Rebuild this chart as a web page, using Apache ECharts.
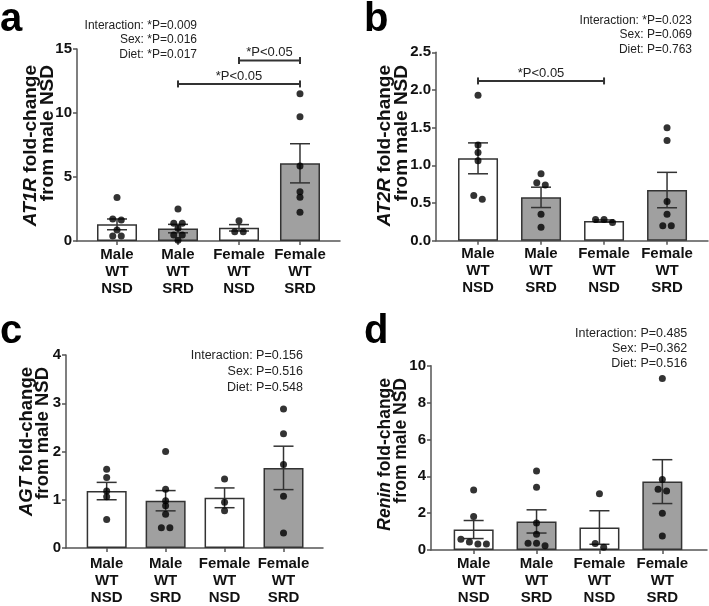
<!DOCTYPE html>
<html>
<head>
<meta charset="utf-8">
<script src="https://cdn.jsdelivr.net/npm/echarts@6/dist/echarts.min.js"></script>
<style>
html,body{margin:0;padding:0;background:#fff;}
#chart{width:709px;height:606px;}
</style>
</head>
<body>
<div id="chart"></div>
<script>
// ---------------- DATA ----------------
const categories = ['Male\nWT\nNSD', 'Male\nWT\nSRD', 'Female\nWT\nNSD', 'Female\nWT\nSRD'];

// Panel a: AT1R
const meansA = [1.30, 0.97, 1.03, 6.07];
const semA = [0.42, 0.33, 0.25, 1.53];
const dotsA = [
  [3.4, 1.72, 1.64, 0.86, 0.39, 0.39],
  [2.5, 1.38, 1.38, 0.99, 0.47, 0.47, 0.05],
  [1.59, 0.73, 0.73],
  [11.5, 9.7, 5.86, 3.85, 3.41, 2.24]
];
const bracketsA = [[2, 3, 14.1], [1, 3, 12.27]];
const bracketLabelsA = ['*P<0.05', '*P<0.05'];
const statsA = ['Interaction: *P=0.009', 'Sex: *P=0.016', 'Diet: *P=0.017'];
const yTicksA = [0, 5, 10, 15];

// Panel b: AT2R
const meansB = [1.093, 0.575, 0.26, 0.672];
const semB = [0.205, 0.135, 0.015, 0.235];
const dotsB = [
  [1.93, 1.27, 1.17, 1.06, 0.60, 0.55],
  [0.89, 0.77, 0.74, 0.35, 0.18],
  [0.28, 0.28, 0.24],
  [1.50, 1.33, 0.52, 0.35, 0.2, 0.2]
];
const bracketsB = [[0, 2, 2.12]];
const bracketLabelsB = ['*P<0.05'];
const statsB = ['Interaction: *P=0.023', 'Sex: P=0.069', 'Diet: P=0.763'];
const yTicksB = [0, 0.5, 1.0, 1.5, 2.0, 2.5];

// Panel c: AGT
const meansC = [1.18, 0.98, 1.04, 1.66];
const semC = [0.18, 0.21, 0.205, 0.45];
const dotsC = [
  [1.63, 1.46, 1.18, 1.06, 0.59],
  [2.0, 1.22, 0.98, 0.875, 0.70, 0.42, 0.42],
  [1.43, 0.95, 0.77],
  [2.88, 2.37, 1.73, 1.07, 0.31]
];
const bracketsC = [];
const bracketLabelsC = [];
const statsC = ['Interaction: P=0.156', 'Sex: P=0.516', 'Diet: P=0.548'];
const yTicksC = [0, 1, 2, 3, 4];

// Panel d: Renin
const meansD = [1.11, 1.55, 1.22, 3.71];
const semD = [0.49, 0.63, 0.91, 1.19];
const dotsD = [
  [3.26, 1.82, 0.58, 0.44, 0.32, 0.32],
  [4.29, 3.41, 1.46, 0.85, 0.37, 0.37, 0.23],
  [3.05, 0.35, 0.15],
  [9.31, 3.82, 3.29, 3.2, 2.0, 0.76]
];
const bracketsD = [];
const bracketLabelsD = [];
const statsD = ['Interaction: P=0.485', 'Sex: P=0.362', 'Diet: P=0.516'];
const yTicksD = [0, 2, 4, 6, 8, 10];

const genes = ['AT1R', 'AT2R', 'AGT', 'Renin'];
const panelLetters = ['a', 'b', 'c', 'd'];

// ---------------- LAYOUT / STYLE ----------------
const FONT = '"Liberation Sans", Arial, Helvetica, sans-serif';
const AXIS_COLOR = '#555';
const INK = '#333';
const GRAY_FILL = '#a0a0a0';
const fills = ['#ffffff', GRAY_FILL, '#ffffff', GRAY_FILL];

const panels = [
  {means: meansA, sem: semA, dots: dotsA, br: bracketsA, brL: bracketLabelsA, stats: statsA, ticks: yTicksA, dec: 0,
   grid: {left: 77, top: 49, width: 263, height: 192}, xmin: -0.656, xmax: 3.656,
   statsPos: [197, 40], statsFont: 12, statsLH: 14.6, lblMargin: 5,
   title: {x1: 31, x2: 48, top: 65, fs: 19}, letter: [0, 20]},
  {means: meansB, sem: semB, dots: dotsB, br: bracketsB, brL: bracketLabelsB, stats: statsB, ticks: yTicksB, dec: 1,
   grid: {left: 436, top: 52.3, width: 272, height: 188.4}, xmin: -0.667, xmax: 3.65,
   statsPos: [692, 35], statsFont: 12, statsLH: 14.3, lblMargin: 5,
   title: {x1: 385, x2: 402, top: 65, fs: 19}, letter: [364, 20]},
  {means: meansC, sem: semC, dots: dotsC, br: bracketsC, brL: bracketLabelsC, stats: statsC, ticks: yTicksC, dec: 0,
   grid: {left: 66, top: 355, width: 257, height: 195}, xmin: -0.69, xmax: 3.67,
   statsPos: [303, 371.5], statsFont: 12.5, statsLH: 15.8, lblMargin: 7,
   title: {x1: 26.5, x2: 43, top: 367, fs: 18.5}, letter: [0, 332]},
  {means: meansD, sem: semD, dots: dotsD, br: bracketsD, brL: bracketLabelsD, stats: statsD, ticks: yTicksD, dec: 0,
   grid: {left: 431, top: 365.7, width: 276, height: 188.6}, xmin: -0.678, xmax: 3.71,
   statsPos: [687.3, 348.5], statsFont: 12.5, statsLH: 15, lblMargin: 5,
   title: {x1: 385, x2: 401.5, top: 378, fs: 17.5}, letter: [364, 332]}
];

const chart = echarts.init(document.getElementById('chart'), null, {renderer: 'canvas'});

const grids = [], xAxes = [], yAxes = [], series = [], graphics = [];

// simple beeswarm: spread dots that overlap vertically
function jitter(values, pxPerUnit) {
  const idx = values.map((v, i) => i).sort((a, b) => values[b] - values[a]);
  const offs = new Array(values.length).fill(0);
  let cluster = [idx[0]];
  const flush = () => {
    const n = cluster.length;
    cluster.forEach((ci, k) => { offs[ci] = (k - (n - 1) / 2) * 8.5; });
  };
  for (let k = 1; k < idx.length; k++) {
    const prev = idx[k - 1], cur = idx[k];
    if ((values[prev] - values[cur]) * pxPerUnit < 4.5) cluster.push(cur);
    else { flush(); cluster = [cur]; }
  }
  flush();
  return offs;
}

panels.forEach((p, k) => {
  const ymax = p.ticks[p.ticks.length - 1];
  const interval = p.ticks[1] - p.ticks[0];
  grids.push(Object.assign({containLabel: false}, p.grid));
  xAxes.push({
    type: 'value', gridIndex: k, min: p.xmin, max: p.xmax,
    axisLine: {show: true, onZero: false, lineStyle: {color: AXIS_COLOR, width: 1.5}},
    axisTick: {show: true, customValues: [0, 1, 2, 3], length: 4, lineStyle: {color: AXIS_COLOR, width: 1.5}},
    axisLabel: {
      customValues: [0, 1, 2, 3],
      formatter: v => categories[Math.round(v)],
      fontFamily: FONT, fontWeight: 'bold', fontSize: 15, lineHeight: 17, color: '#111',
      margin: p.lblMargin
    },
    splitLine: {show: false}
  });
  yAxes.push({
    type: 'value', gridIndex: k, min: 0, max: ymax, interval: interval,
    axisLine: {show: true, onZero: false, lineStyle: {color: AXIS_COLOR, width: 1.5}},
    axisTick: {show: true, length: 4, lineStyle: {color: AXIS_COLOR, width: 1.5}},
    axisLabel: {
      formatter: v => v.toFixed(p.dec),
      fontFamily: FONT, fontWeight: 'bold', fontSize: 15, color: '#111', margin: 5
    },
    splitLine: {show: false}
  });

  // bars
  series.push({
    type: 'bar', xAxisIndex: k, yAxisIndex: k, barWidth: 40,
    data: p.means.map((m, i) => ({value: [i, m], itemStyle: {color: fills[i], borderColor: INK, borderWidth: 1.5}})),
    silent: true, z: 2
  });

  // error bars
  series.push({
    type: 'custom', xAxisIndex: k, yAxisIndex: k, z: 3, silent: true,
    data: p.means.map((m, i) => [i, m - p.sem[i], m + p.sem[i]]),
    renderItem: (params, api) => {
      const x = api.value(0);
      const lo = api.coord([x, api.value(1)]);
      const hi = api.coord([x, api.value(2)]);
      const st = {stroke: INK, lineWidth: 1.5};
      const hw = 10;
      return {type: 'group', children: [
        {type: 'line', shape: {x1: lo[0], y1: lo[1], x2: hi[0], y2: hi[1]}, style: st},
        {type: 'line', shape: {x1: hi[0] - hw, y1: hi[1], x2: hi[0] + hw, y2: hi[1]}, style: st},
        {type: 'line', shape: {x1: lo[0] - hw, y1: lo[1], x2: lo[0] + hw, y2: lo[1]}, style: st}
      ]};
    }
  });

  // dots
  const pxPerUnit = p.grid.height / ymax;
  const dotData = [];
  p.dots.forEach((arr, i) => {
    const offs = jitter(arr, pxPerUnit);
    arr.forEach((v, j) => dotData.push({value: [i, v], symbolOffset: [offs[j], 0]}));
  });
  series.push({
    type: 'scatter', xAxisIndex: k, yAxisIndex: k, z: 4, silent: true,
    symbol: 'circle', symbolSize: 7, itemStyle: {color: '#000'},
    data: dotData
  });

  // significance brackets
  if (p.br.length) {
    series.push({
      type: 'custom', xAxisIndex: k, yAxisIndex: k, z: 5, silent: true,
      data: p.br.map((b, i) => [b[0], b[1], b[2], i]),
      renderItem: (params, api) => {
        const a = api.coord([api.value(0), api.value(2)]);
        const b = api.coord([api.value(1), api.value(2)]);
        const lbl = p.brL[api.value(3)];
        const st = {stroke: INK, lineWidth: 2};
        return {type: 'group', children: [
          {type: 'line', shape: {x1: a[0], y1: a[1], x2: b[0], y2: b[1]}, style: st},
          {type: 'line', shape: {x1: a[0], y1: a[1] - 3.5, x2: a[0], y2: a[1] + 3.5}, style: st},
          {type: 'line', shape: {x1: b[0], y1: b[1] - 3.5, x2: b[0], y2: b[1] + 3.5}, style: st},
          {type: 'text', x: (a[0] + b[0]) / 2, y: a[1] - 8, style: {
            text: lbl, fill: '#222', font: '13px ' + FONT,
            align: 'center', verticalAlign: 'middle', textAlign: 'center', textVerticalAlign: 'middle'
          }}
        ]};
      }
    });
  }

  // stats text
  graphics.push({
    type: 'text', x: p.statsPos[0], y: p.statsPos[1], silent: true,
    style: {
      text: p.stats.join('\n'), fill: '#222', fontFamily: FONT, fontSize: p.statsFont,
      lineHeight: p.statsLH, align: 'right', verticalAlign: 'middle',
      textAlign: 'right', textVerticalAlign: 'middle'
    }
  });

  // y-axis title (two lines, gene name italic)
  const t = p.title;
  graphics.push({
    type: 'text', x: t.x1, y: t.top, rotation: Math.PI / 2, silent: true,
    style: {
      text: '{i|' + genes[k] + '} fold-change',
      rich: {i: {fontStyle: 'italic', fontWeight: 'bold', fontSize: t.fs, fontFamily: FONT, fill: '#111'}},
      fill: '#111', fontFamily: FONT, fontWeight: 'bold', fontSize: t.fs,
      align: 'right', verticalAlign: 'middle', textAlign: 'right', textVerticalAlign: 'middle'
    }
  });
  graphics.push({
    type: 'text', x: t.x2, y: t.top, rotation: Math.PI / 2, silent: true,
    style: {
      text: 'from male NSD', fill: '#111', fontFamily: FONT, fontWeight: 'bold', fontSize: t.fs,
      align: 'right', verticalAlign: 'middle', textAlign: 'right', textVerticalAlign: 'middle'
    }
  });

  // panel letter
  graphics.push({
    type: 'text', x: p.letter[0], y: p.letter[1], silent: true,
    style: {
      text: panelLetters[k], fill: '#000', fontFamily: FONT, fontWeight: 'bold', fontSize: 40,
      align: 'left', verticalAlign: 'middle', textAlign: 'left', textVerticalAlign: 'middle'
    }
  });
});

chart.setOption({
  animation: false,
  backgroundColor: '#fff',
  grid: grids,
  xAxis: xAxes,
  yAxis: yAxes,
  series: series,
  graphic: graphics
});
</script>
</body>
</html>
